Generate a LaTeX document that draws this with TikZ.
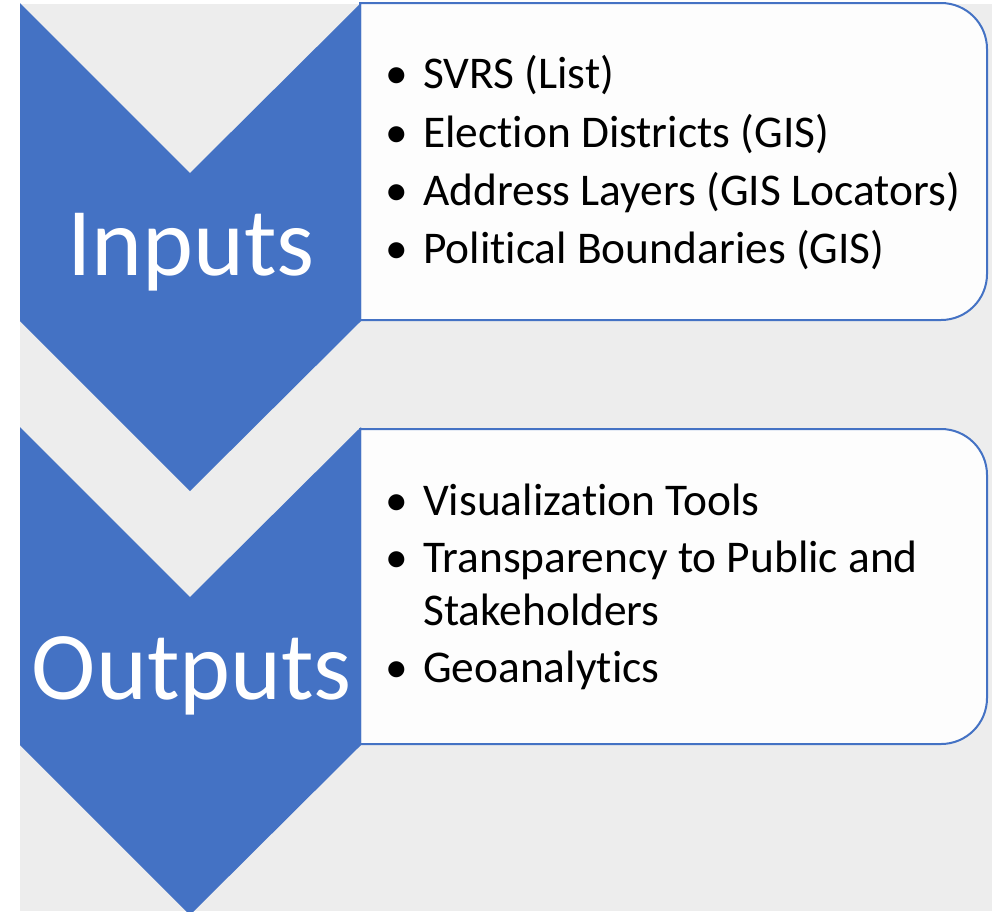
\documentclass[tikz,border=0pt]{standalone}
\usepackage{fontspec}
\setmainfont[Ligatures={NoCommon}]{Carlito}
\definecolor{chevblue}{HTML}{4472C4}
\definecolor{bggray}{HTML}{EDEDED}
\definecolor{boxfill}{HTML}{FDFDFD}
\begin{document}
\begin{tikzpicture}[x=1pt,y=-1pt,
  chev/.style={fill=chevblue},
  listbox/.style={draw=chevblue, line width=2pt, fill=boxfill},
  bigtxt/.style={text=white, font=\fontsize{97}{110}\selectfont, inner sep=0pt, anchor=base},
  item/.style={text=black, font=\fontsize{45.4}{54}\selectfont, inner sep=0pt, anchor=base west},
  bul/.style={text=black, font=\fontsize{45.4}{54}\selectfont, inner sep=0pt, anchor=base}]
\useasboundingbox (0,0) rectangle (992,911);
\fill[bggray] (20,4) rectangle (992,911);
% boxes (square on the left, rounded on the right)
\draw[listbox] (360,3) -- (941,3) arc[start angle=-90, end angle=0, radius=46]
  -- (987,274) arc[start angle=0, end angle=90, radius=46] -- (360,320) -- cycle;
\draw[listbox] (360,429) -- (941,429) arc[start angle=-90, end angle=0, radius=46]
  -- (987,698) arc[start angle=0, end angle=90, radius=46] -- (360,744) -- cycle;
% chevrons
\fill[chev] (20,3) -- (190,173) -- (361,3) -- (361,321) -- (190,491) -- (20,321) -- cycle;
\fill[chev] (20,427) -- (190,597) -- (361,427) -- (361,745) -- (190,915) -- (20,745) -- cycle;
% labels
\node[bigtxt] (inputs) at (191,275) {Inputs};
\node[bigtxt] (outputs) at (192,699) {Outputs};
% inputs list
\foreach \t/\y [count=\i] in {SVRS (List)/88, Election Districts (GIS)/147, Address Layers (GIS Locators)/205, Political Boundaries (GIS)/263}{
  \node[bul] (ib\i) at (397,\y) {\textbullet};
  \node[item] (it\i) at (423,\y) {\t};
}
% outputs list
\node[bul] (ob1) at (397,515) {\textbullet};
\node[item] (ot1) at (423,515) {Visualization Tools};
\node[bul] (ob2) at (397,572) {\textbullet};
\node[item] (ot2) at (423,572) {Transparency to Public and};
\node[item] (ot2b) at (423,625) {Stakeholders};
\node[bul] (ob3) at (397,682) {\textbullet};
\node[item] (ot3) at (423,682) {Geoanalytics};
\end{tikzpicture}
\end{document}
